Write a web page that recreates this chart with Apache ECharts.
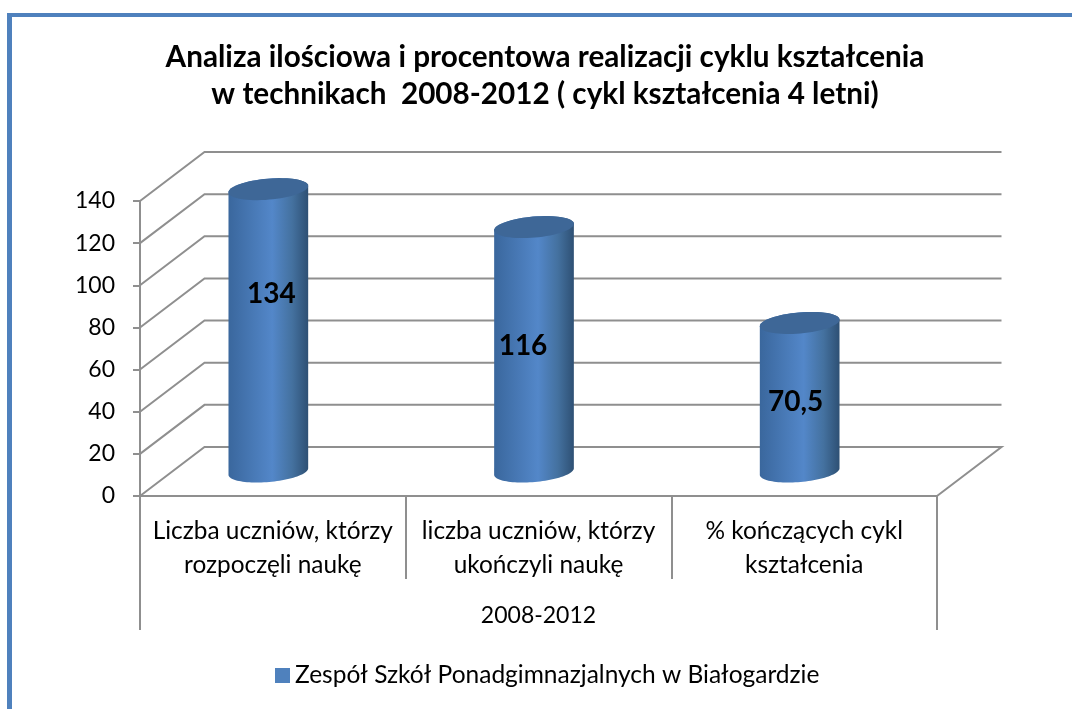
<!DOCTYPE html>
<html>
<head>
<meta charset="utf-8">
<style>html,body{margin:0;padding:0;background:#fff}#c{width:1072px;height:709px}</style>
<script src="https://cdn.jsdelivr.net/npm/echarts@6/dist/echarts.min.js"></script>
</head>
<body>
<div id="c"></div>
<script>
const categories = ['Liczba uczniów, którzy\nrozpoczęli naukę', 'liczba uczniów, którzy\nukończyli naukę', '% kończących cykl\nkształcenia'];
const groupLabels = ['2008-2012'];
const seriesName = 'Zespół Szkół Ponadgimnazjalnych w Białogardzie';
const values = [134, 116, 70.5];
const valueLabels = ['134', '116', '70,5'];
const gridValues = [0, 20, 40, 60, 80, 100, 120, 140];
const titleText = 'Analiza ilościowa i procentowa realizacji cyklu kształcenia\nw technikach  2008-2012 ( cykl kształcenia 4 letni)';

const GRAY = '#8f8f8f';
const FONT = 'Lato, "Open Sans", sans-serif';
const DEPTH_X = 64.5, DEPTH_Y = -49;
const RX = 40, RY = 10.5, TILT = -5 * Math.PI / 180;
const labelNudge = [[3, -36], [-11, -3], [-4, 5]];

function ellipsePoint(cx, cy, t) {
  const x = RX * Math.cos(t), y = RY * Math.sin(t);
  return [cx + x * Math.cos(TILT) - y * Math.sin(TILT), cy + x * Math.sin(TILT) + y * Math.cos(TILT)];
}
function ellipseArc(cx, cy, from, to, n) {
  const pts = [];
  for (let i = 0; i <= n; i++) pts.push(ellipsePoint(cx, cy, from + (to - from) * i / n));
  return pts;
}

function renderWalls(params, api) {
  const v = api.value(0);
  const a = api.coord([0, v]);
  const left = params.coordSys.x, right = left + params.coordSys.width;
  const pts = [[left, a[1]], [left + DEPTH_X, a[1] + DEPTH_Y], [right + DEPTH_X, a[1] + DEPTH_Y]];
  if (v === 0) pts.push([right, a[1]]);
  return { type: 'polyline', silent: true, shape: { points: pts },
    style: { fill: 'none', stroke: GRAY, lineWidth: 2 } };
}

function renderCylinder(params, api) {
  const i = api.value(0);
  const top = api.coord([i, api.value(1)]);
  const base = api.coord([i, 0]);
  const cx = base[0] - 4.5;
  const by = base[1] + DEPTH_Y / 2;
  const ty = top[1] + DEPTH_Y / 2;
  const body = ellipseArc(cx, ty, Math.PI, 2 * Math.PI, 24)
    .concat(ellipseArc(cx, by, 0, Math.PI, 48));
  const bodyFill = new echarts.graphic.LinearGradient(0, 0, 1, 0, [
    { offset: 0, color: '#3a679d' },
    { offset: 0.55, color: '#5387c9' },
    { offset: 0.8, color: '#44719f' },
    { offset: 1, color: '#2e5074' }
  ]);
  const n = labelNudge[i];
  return { type: 'group', children: [
    { type: 'polygon', shape: { points: body }, style: { fill: bodyFill } },
    { type: 'polygon', shape: { points: ellipseArc(cx, ty, 0, 2 * Math.PI, 64) }, style: { fill: '#3e6797' } },
    { type: 'text', style: {
        text: valueLabels[i], x: cx + n[0], y: (by + ty) / 2 + n[1], align: 'center', verticalAlign: 'middle',
        fill: '#000', font: 'bold 28px ' + FONT } }
  ] };
}

const chart = echarts.init(document.getElementById('c'), null, { renderer: 'canvas' });
chart.setOption({
  animation: false,
  color: ['#4f81bd'],
  title: { text: titleText, left: 540, top: 34, textAlign: 'center',
    textStyle: { fontFamily: FONT, fontWeight: 'bold', fontSize: 29.7, lineHeight: 37, color: '#000' } },
  legend: { data: [seriesName], left: 270, top: 658, icon: 'rect', itemWidth: 15, itemHeight: 15, itemGap: 6,
    textStyle: { fontFamily: FONT, fontSize: 24.5, color: '#000', padding: [0, 0, 0, 0] } },
  grid: { left: 140, top: 201, width: 797, height: 295 },
  xAxis: [
    { type: 'category', data: categories, position: 'bottom',
      axisLine: { lineStyle: { color: GRAY, width: 2 } },
      axisTick: { show: true, length: 83, lineStyle: { color: GRAY, width: 2 } },
      axisLabel: { interval: 0, margin: 18, fontFamily: FONT, fontSize: 24.4, lineHeight: 34, color: '#000' } },
    { type: 'category', data: groupLabels, position: 'bottom',
      axisLine: { show: false },
      axisTick: { show: true, length: 134, lineStyle: { color: GRAY, width: 2 } },
      axisLabel: { interval: 0, margin: 108, fontFamily: FONT, fontSize: 23, color: '#000' } }
  ],
  yAxis: { type: 'value', min: 0, max: 140, interval: 20,
    axisLine: { show: true, lineStyle: { color: GRAY, width: 2 } },
    axisTick: { show: true, length: 7, lineStyle: { color: GRAY, width: 2 } },
    splitLine: { show: false },
    axisLabel: { margin: 25, fontFamily: FONT, fontSize: 23, color: '#000' } },
  series: [
    { type: 'custom', name: 'walls', renderItem: renderWalls, z: 1, silent: true, clip: false,
      xAxisIndex: 0, yAxisIndex: 0, encode: { y: 0 }, data: gridValues.map(v => [v]) },
    { type: 'custom', name: seriesName, renderItem: renderCylinder, z: 5, clip: false,
      xAxisIndex: 0, yAxisIndex: 0, encode: { x: 0, y: 1 }, data: values.map((v, i) => [i, v]) }
  ],
  graphic: [
    { type: 'rect', silent: true, shape: { x: 7, y: 13, width: 5, height: 696 }, style: { fill: '#4f81bd' } },
    { type: 'rect', silent: true, shape: { x: 7, y: 13, width: 1065, height: 4 }, style: { fill: '#4f81bd' } }
  ]
});
</script>
</body>
</html>
